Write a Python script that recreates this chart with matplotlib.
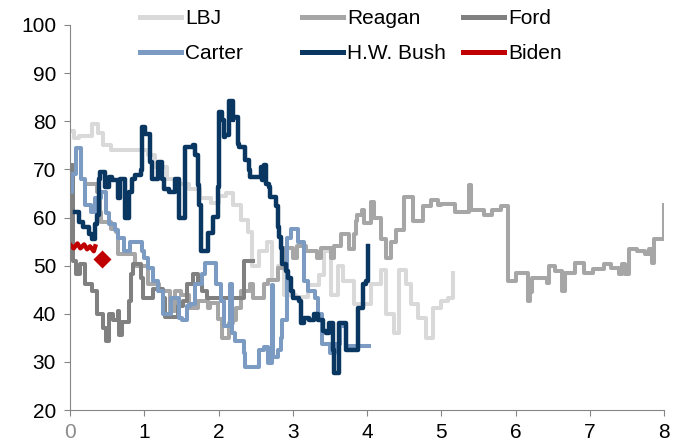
import matplotlib
matplotlib.use('Agg')
import matplotlib.pyplot as plt

plt.rcParams['font.family'] = ['Liberation Sans', 'DejaVu Sans']

# years in office (x) vs approval rating (y)
lbj_x = [0.00, 0.05, 0.12, 0.30, 0.38, 0.45, 0.55, 0.75, 1.05, 1.15, 1.30, 1.45, 1.60, 1.75, 1.90,
         2.00, 2.10, 2.20, 2.30, 2.40, 2.45, 2.55, 2.65, 2.72, 2.80, 2.88, 3.05, 3.20, 3.35, 3.42,
         3.51, 3.61, 3.68, 3.82, 4.05, 4.19, 4.26, 4.36, 4.43, 4.53, 4.59, 4.69, 4.80, 4.89, 5.00,
         5.09, 5.16]
lbj_y = [78, 76.5, 77, 79.5, 77.5, 75, 74, 74, 73, 70.5, 68, 67, 66, 64, 63,
         64.5, 65, 62.5, 59.5, 57, 50, 53, 55, 47, 50, 44, 43.5, 46, 48, 53,
         44, 50, 46.8, 42, 46.2, 49, 40, 36, 49, 46.2, 42, 39.2, 35, 41.2, 42.7,
         43.3, 48.5]

reagan_x = [0.20, 0.37, 0.40, 0.42, 0.55, 0.62, 0.65, 0.88, 1.05, 1.20, 1.35, 1.42, 1.49, 1.60,
            1.72, 1.86, 1.89, 1.99, 2.05, 2.14, 2.20, 2.23, 2.30, 2.43, 2.47, 2.61, 2.67, 2.80,
            2.88, 3.01, 3.06, 3.18, 3.33, 3.38, 3.51, 3.55, 3.65, 3.76, 3.83, 3.85, 3.87, 3.93,
            3.96, 4.05, 4.09, 4.19, 4.26, 4.32, 4.39, 4.50, 4.62, 4.75, 4.86, 4.95, 5.00, 5.18,
            5.38, 5.40, 5.58, 5.68, 5.81, 5.90, 6.01, 6.17, 6.20, 6.22, 6.42, 6.45, 6.53, 6.62,
            6.66, 6.80, 6.92, 7.05, 7.19, 7.28, 7.39, 7.43, 7.47, 7.53, 7.63, 7.75, 7.80, 7.84,
            7.86, 8.00]
reagan_y = [67, 65.4, 61.2, 59, 57.7, 57, 52.4, 50, 46.2, 44.7, 40.6, 44.7, 44, 41.2,
            42.7, 41.2, 42.3, 39, 35, 38, 38.6, 41.2, 44.7, 46.2, 43.3, 46.2, 47, 49.5,
            53.6, 51.5, 54, 53, 51.5, 53.6, 51.5, 54, 56.5, 53.4, 56.5, 59.2, 60.6, 61.6,
            58.8, 63.3, 59.8, 55.5, 51.5, 55, 57.5, 64.3, 59.2, 62.3, 63.7, 62.5, 62.9, 61.2,
            66.8, 61.6, 60.6, 61.5, 62.3, 46.8, 48.5, 42.7, 44.5, 47.5, 46.4, 50, 48.9, 44.7,
            48.5, 50.5, 48.5, 49.3, 50.3, 49.5, 48.2, 50.3, 48.2, 53.4, 53, 52.5, 53.4, 50.5,
            55.5, 62.5]

ford_x = [0.00, 0.04, 0.08, 0.14, 0.20, 0.30, 0.36, 0.45, 0.48, 0.53, 0.58, 0.64, 0.66, 0.70,
          0.80, 0.82, 0.85, 0.95, 0.98, 1.12, 1.25, 1.28, 1.45, 1.52, 1.58, 1.65, 1.72, 1.78,
          1.85, 2.34, 2.47]
ford_y = [71, 50.9, 48.2, 50.3, 46.2, 44.7, 40, 37, 34.4, 40, 38.6, 40.5, 35.5, 38.2,
          42.7, 48.2, 50.3, 47.4, 43.3, 45.1, 43.3, 39.4, 41.6, 42.7, 46.2, 48.2, 46.2, 44.7,
          43.3, 51, 51]

carter_x = [0.00, 0.03, 0.08, 0.15, 0.20, 0.28, 0.33, 0.42, 0.48, 0.52, 0.60, 0.64, 0.73, 0.81,
            0.97, 1.00, 1.05, 1.12, 1.19, 1.25, 1.36, 1.47, 1.51, 1.58, 1.62, 1.69, 1.78, 1.82,
            1.96, 2.03, 2.08, 2.16, 2.18, 2.22, 2.34, 2.36, 2.54, 2.61, 2.66, 2.72, 2.74, 2.80,
            2.84, 2.86, 2.92, 2.98, 3.07, 3.15, 3.20, 3.30, 3.34, 3.40, 3.50, 3.57, 3.63, 3.72,
            4.03]
carter_y = [65.4, 69, 74.5, 68, 62.5, 61.2, 64, 65.4, 61, 58.6, 57.5, 55.7, 53, 55,
            53, 51.5, 49.5, 46.8, 44.7, 40, 43.3, 39.2, 38.6, 41.6, 42, 46.2, 48.2, 50.5,
            46.2, 42.7, 37.5, 46.2, 36, 34.4, 31.8, 28.9, 32.4, 33, 29.7, 46, 31, 32.4,
            35, 38.6, 55.7, 57.7, 55, 46.8, 44.7, 43.3, 40, 33.8, 31.8, 33.8, 37.5, 33.4,
            33.4]

bush_x = [0.07, 0.12, 0.17, 0.25, 0.30, 0.34, 0.36, 0.39, 0.41, 0.47, 0.53, 0.57, 0.64, 0.68,
          0.74, 0.80, 0.84, 0.88, 0.95, 0.97, 1.01, 1.08, 1.11, 1.18, 1.24, 1.27, 1.34, 1.42,
          1.47, 1.55, 1.65, 1.69, 1.72, 1.74, 1.76, 1.86, 1.92, 1.99, 2.00, 2.05, 2.07, 2.09,
          2.14, 2.19, 2.20, 2.26, 2.27, 2.36, 2.41, 2.43, 2.57, 2.59, 2.61, 2.64, 2.68, 2.70,
          2.77, 2.80, 2.81, 2.84, 2.86, 2.91, 2.93, 2.97, 3.01, 3.08, 3.11, 3.15, 3.22, 3.28,
          3.34, 3.41, 3.45, 3.49, 3.54, 3.55, 3.62, 3.68, 3.72, 3.88, 3.95, 3.99, 4.01]
bush_y = [61.2, 59, 58, 56.5, 55.5, 58.6, 60.6, 68, 69.5, 66.4, 68.5, 67.8, 64, 68,
          60, 65.4, 68, 68.9, 69.9, 78.8, 77.3, 71.5, 68, 71.5, 68, 66, 65.4, 68,
          60, 74.6, 75, 73, 66.8, 62.7, 53, 56.7, 60.2, 66.4, 81.9, 80.2, 76.7, 77.1,
          84.3, 80.2, 80.8, 75.3, 74.6, 72, 69.9, 68.5, 70.5, 67.8, 71, 67, 66.4, 64.3,
          62.3, 58.1, 56, 53.6, 50.3, 48.9, 47.4, 44.7, 43.3, 42.7, 38, 39.2, 38.6, 40,
          38.6, 36.5, 35.9, 38, 32.4, 27.6, 38, 38.1, 32.4, 41.2, 46.2, 46.8, 54]

biden_x = [0.00, 0.05, 0.10, 0.14, 0.19, 0.23, 0.27, 0.32, 0.34]
biden_y = [54.4, 53.6, 54.6, 53.6, 54.4, 53.4, 54, 53, 54]
biden_last_x = 0.43
biden_last_y = 51.3

fig = plt.figure(figsize=(6.81, 4.45), dpi=100)
ax = fig.add_axes([70 / 681, 35 / 445, 594 / 681, 385 / 445])

series = [
    ('LBJ', lbj_x, lbj_y, '#D9D9D9', 2.9),
    ('Reagan', reagan_x, reagan_y, '#A6A6A6', 2.9),
    ('Ford', ford_x, ford_y, '#808080', 2.9),
    ('Carter', carter_x, carter_y, '#7B9BC2', 2.9),
    ('H.W. Bush', bush_x, bush_y, '#0A3762', 3.2),
]
lines = {}
for name, xs, ys, col, lw in series:
    ln, = ax.plot(xs, ys, drawstyle='steps-post', color=col, lw=lw, label=name)
    lines[name] = ln
ln, = ax.plot(biden_x, biden_y, color='#C00000', lw=3.2, label='Biden')
lines['Biden'] = ln
ax.plot(biden_last_x, biden_last_y, marker='D', ms=10.5, color='#C00000',
        mec='white', mew=1, ls='none')

ax.set_xlim(0, 8)
ax.set_ylim(20, 100)
ax.set_xticks(range(0, 9))
ax.set_yticks(range(20, 101, 10))
for s in ['top', 'right']:
    ax.spines[s].set_visible(False)
for s in ['left', 'bottom']:
    ax.spines[s].set_color('#868686')
    ax.spines[s].set_linewidth(0.8)
ax.tick_params(direction='out', length=4, width=0.8, color='#868686', labelsize=15)
ax.tick_params(axis='y', pad=6)
ax.tick_params(axis='x', pad=5)
ax.get_xticklabels()[0].set_color('#8C8C8C')

# legend: three columns, two rows
groups = [(['LBJ', 'Carter'], 140), (['Reagan', 'H.W. Bush'], 302), (['Ford', 'Biden'], 463)]
for names, px in groups:
    leg = fig.legend([lines[n] for n in names], names, loc='upper left',
                     bbox_to_anchor=(px / 681, 1 - 9 / 445), frameon=False, fontsize=15,
                     borderpad=0, borderaxespad=0, handlelength=1.95, handletextpad=0.2,
                     labelspacing=0.78)
    for h in leg.legend_handles:
        h.set_linewidth(3.6)

fig.savefig('out.png', dpi=100)
